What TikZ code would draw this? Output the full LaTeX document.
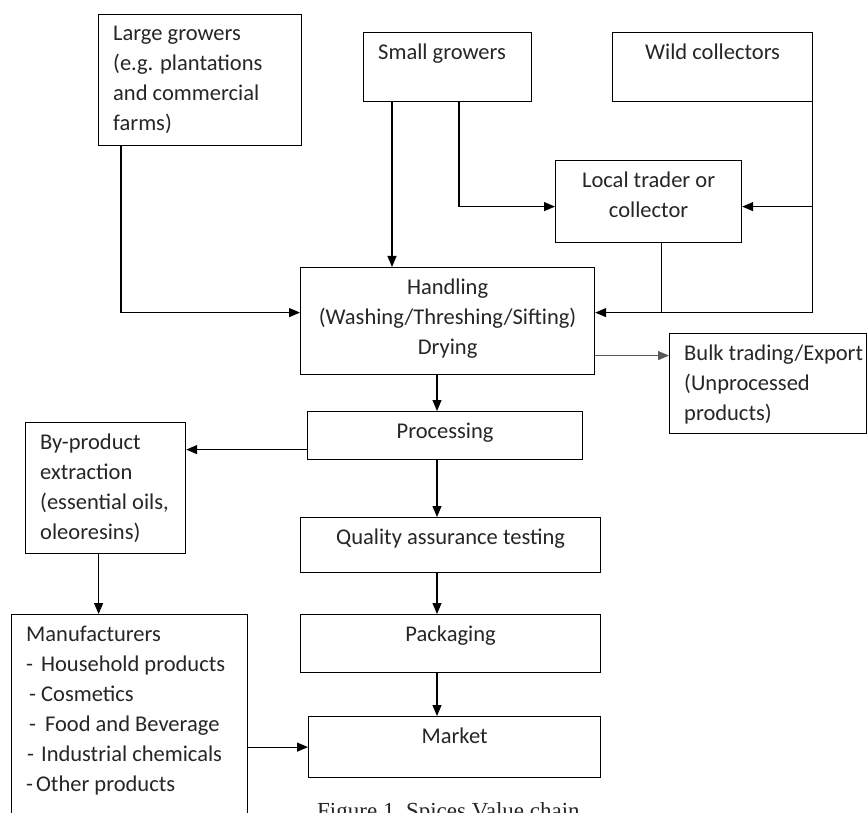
\documentclass[tikz,border=0pt]{standalone}
\usepackage{fontspec}
\setmainfont{Carlito}
\newfontfamily\captionfont{Liberation Serif}
\usepackage{tikz}
\usetikzlibrary{arrows.meta}

\begin{document}
\begin{tikzpicture}[x=1pt, y=-1pt,
    font=\fontsize{22.5}{30}\selectfont,
    stage/.style={draw=black, line width=1.2pt, anchor=north west, inner sep=0pt},
    lefttxt/.style={anchor=north west, align=left, inner xsep=15pt, inner ysep=12pt, text=black!85},
    midtxt/.style={anchor=north, align=center, inner xsep=0pt, inner ysep=12pt, text=black!85},
    flow/.style={line width=1.2pt, -{Triangle[length=11pt, width=9pt]}},
    feed/.style={line width=1.2pt}]

          \path [use as bounding box, fill=white] (0,0) rectangle (868,813); % page

          % growers and collectors
          \node [stage, minimum width=203, minimum height=131,
                 label={[lefttxt]north west:{Large growers\\(e.g. plantations\\and commercial\\farms)}}] (large) at (98,14) {};
          \node [stage, minimum width=168, minimum height=69,
                 label={[lefttxt]north west:{Small growers}}] (small) at (363,32) {};
          \node [stage, minimum width=200, minimum height=69,
                 label={[midtxt]north:{Wild collectors}}] (wild) at (612,32) {};
          \node [stage, minimum width=186, minimum height=82,
                 label={[midtxt]north:{Local trader or\\collector}}] (local) at (555,160) {};

          % main chain
          \node [stage, minimum width=294, minimum height=107,
                 label={[midtxt]north:{Handling\\(Washing/Threshing/Sifting)\\Drying}}] (handling) at (300,267) {};
          \node [stage, minimum width=197, minimum height=100,
                 label={[lefttxt]north west:{Bulk trading/Export\\(Unprocessed\\products)}}] (bulk) at (669,333) {};
          \node [stage, minimum width=275, minimum height=48,
                 label={[midtxt]north:{Processing}}] (processing) at (307,411) {};
          \node [stage, minimum width=300, minimum height=55,
                 label={[midtxt]north:{Quality assurance testing}}] (quality) at (300,517) {};
          \node [stage, minimum width=300, minimum height=58,
                 label={[midtxt]north:{Packaging}}] (packaging) at (300,614) {};
          \node [stage, minimum width=292, minimum height=61,
                 label={[midtxt]north:{Market}}] (market) at (308,716) {};

          % side products
          \node [stage, minimum width=160, minimum height=131,
                 label={[lefttxt]north west:{By-product\\extraction\\(essential oils,\\oleoresins)}}] (byprod) at (25,422) {};
          \node [stage, minimum width=236, minimum height=230,
                 label={[lefttxt]north west:{Manufacturers\\-\hspace{8pt}Household products\\\hspace{3pt}- Cosmetics\\\hspace{3pt}-\hspace{9pt}Food and Beverage\\\hspace{1pt}-\hspace{7pt}Industrial chemicals\\-\hspace{3pt}Other products}}] (manuf) at (11,614) {};

          \node [anchor=base west, inner sep=0pt, text=black!85,
                 font=\captionfont\fontsize{23}{28}\selectfont] (caption) at (317,818) {Figure 1.\ Spices Value chain};

          % branch points
          \coordinate (lgdrop) at ([xshift=23pt]large.south west);
          \coordinate (sgleft) at ([xshift=29pt]small.south west);
          \coordinate (sgright) at ([xshift=96pt]small.south west);
          \coordinate (wcdrop) at ([xshift=-1pt]wild.south east);
          \coordinate (ltdrop) at ([xshift=13pt]local.south);
          \coordinate (hdin) at ([yshift=8.5pt]handling.east);
          \coordinate (hdout) at ([yshift=-34.5pt]handling.east);
          \coordinate (pcout) at ([yshift=-14pt]processing.west);
          \coordinate (bpdrop) at ([xshift=-7pt]byprod.south);
          \coordinate (spine) at (437,0);

          \draw [flow] (lgdrop) |- ([yshift=8.5pt]handling.west);
          \draw [flow] (sgleft) -- (sgleft |- handling.north);
          \draw [flow] (sgright) |- ([yshift=-5pt]local.west);
          \draw [flow] (wcdrop) |- ([yshift=-5pt]local.east);
          \draw [flow] (wcdrop) |- (hdin);
          \draw [feed] (ltdrop) -- (ltdrop |- hdin);

          \draw [flow, draw=black!65] (hdout) -- (hdout -| bulk.west);
          \draw [flow] (handling.south -| spine) -- (processing.north -| spine);
          \draw [flow] (pcout) -- (pcout -| byprod.east);
          \draw [flow] (bpdrop) -- (bpdrop |- manuf.north);
          \draw [flow] (processing.south -| spine) -- (quality.north -| spine);
          \draw [flow] (quality.south -| spine) -- (packaging.north -| spine);
          \draw [flow] (packaging.south -| spine) -- (market.north -| spine);
          \draw [flow] (manuf.east |- market.west) -- (market.west);
        \end{tikzpicture}
\end{document}
